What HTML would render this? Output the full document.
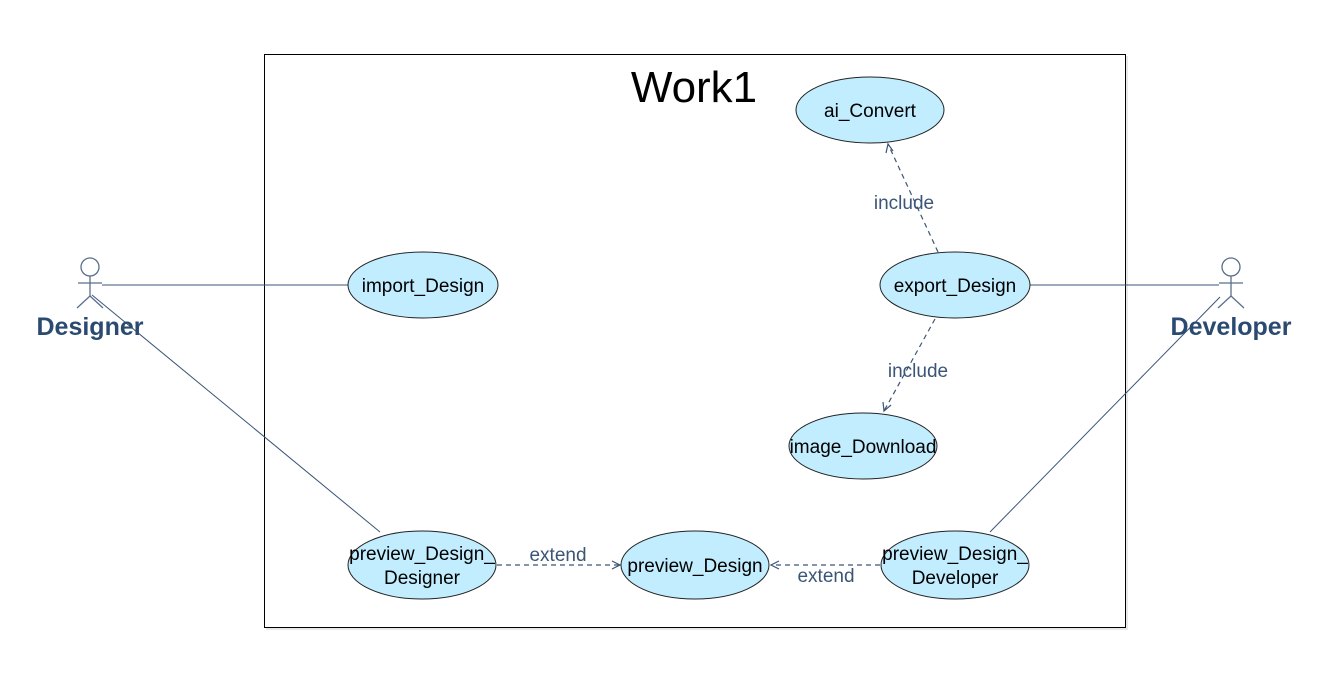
<!DOCTYPE html>
<html><head><meta charset="utf-8"><style>
html,body{margin:0;padding:0;background:#fff;}
svg{display:block;font-family:"Liberation Sans",sans-serif;}
</style></head><body>
<svg width="1336" height="684" viewBox="0 0 1336 684" xmlns="http://www.w3.org/2000/svg">
<rect x="0" y="0" width="1336" height="684" fill="#fff"/>
<rect x="266" y="56" width="862" height="574" fill="#e8e8e8"/>
<rect x="264.5" y="54.5" width="861" height="573" fill="#fff" stroke="#000" stroke-width="1"/>
<text x="694" y="102" font-size="44" text-anchor="middle" fill="#000">Work1</text>

<g stroke="#3a5577" stroke-width="1" fill="none">
<line x1="102" y1="285" x2="348" y2="285"/>
<line x1="92" y1="295" x2="380" y2="532"/>
<line x1="1030" y1="285" x2="1219" y2="285"/>
<line x1="1220" y1="297" x2="990" y2="532"/>
</g>
<g stroke="#3a5577" stroke-width="1.2" fill="none" stroke-dasharray="5,4">
<line x1="938" y1="252" x2="888" y2="144"/>
<line x1="935" y1="319" x2="884" y2="411"/>
<line x1="497" y1="565" x2="619" y2="565"/>
<line x1="880" y1="565" x2="772" y2="565"/>
</g>
<g stroke="#3a5577" stroke-width="1.2" fill="none">
<polyline points="886,153 888,144 893,151"/>
<polyline points="883,402 884,411 891,405"/>
<polyline points="612,561 620,565 612,569"/>
<polyline points="779,561 771,565 779,569"/>
</g>
<g font-size="19" fill="#3a5577" text-anchor="middle">
<text x="904" y="209">include</text>
<text x="918" y="377">include</text>
<text x="558" y="561">extend</text>
<text x="826" y="582">extend</text>
</g>

<g fill="#c1edff" stroke="#222" stroke-width="1">
<ellipse cx="870" cy="110" rx="74" ry="33"/>
<ellipse cx="423" cy="285" rx="75" ry="33"/>
<ellipse cx="955" cy="285" rx="75" ry="33"/>
<ellipse cx="863" cy="446" rx="74" ry="33"/>
<ellipse cx="422" cy="565" rx="74" ry="34"/>
<ellipse cx="695" cy="565" rx="74" ry="34"/>
<ellipse cx="955" cy="565" rx="74" ry="34"/>
</g>
<g font-size="19" fill="#000" text-anchor="middle">
<text x="870" y="117">ai_Convert</text>
<text x="423" y="292">import_Design</text>
<text x="955" y="292">export_Design</text>
<text x="863" y="453">image_Download</text>
<text x="422" y="560">preview_Design_</text>
<text x="422" y="584">Designer</text>
<text x="695" y="572">preview_Design</text>
<text x="955" y="560">preview_Design_</text>
<text x="955" y="584">Developer</text>
</g>

<g stroke="#5a6f8c" stroke-width="1.3" fill="none">
<circle cx="90" cy="267" r="9"/>
<line x1="90" y1="276" x2="90" y2="296"/>
<line x1="78" y1="283" x2="102" y2="283"/>
<line x1="90" y1="296" x2="77" y2="308"/>
<line x1="90" y1="296" x2="103" y2="308"/>
<circle cx="1231" cy="267" r="9"/>
<line x1="1231" y1="276" x2="1231" y2="296"/>
<line x1="1219" y1="283" x2="1243" y2="283"/>
<line x1="1231" y1="296" x2="1218" y2="308"/>
<line x1="1231" y1="296" x2="1244" y2="308"/>
</g>
<g font-size="25" font-weight="bold" fill="#2a4a70" text-anchor="middle">
<text x="90" y="335">Designer</text>
<text x="1231" y="335">Developer</text>
</g>
</svg>
</body></html>
